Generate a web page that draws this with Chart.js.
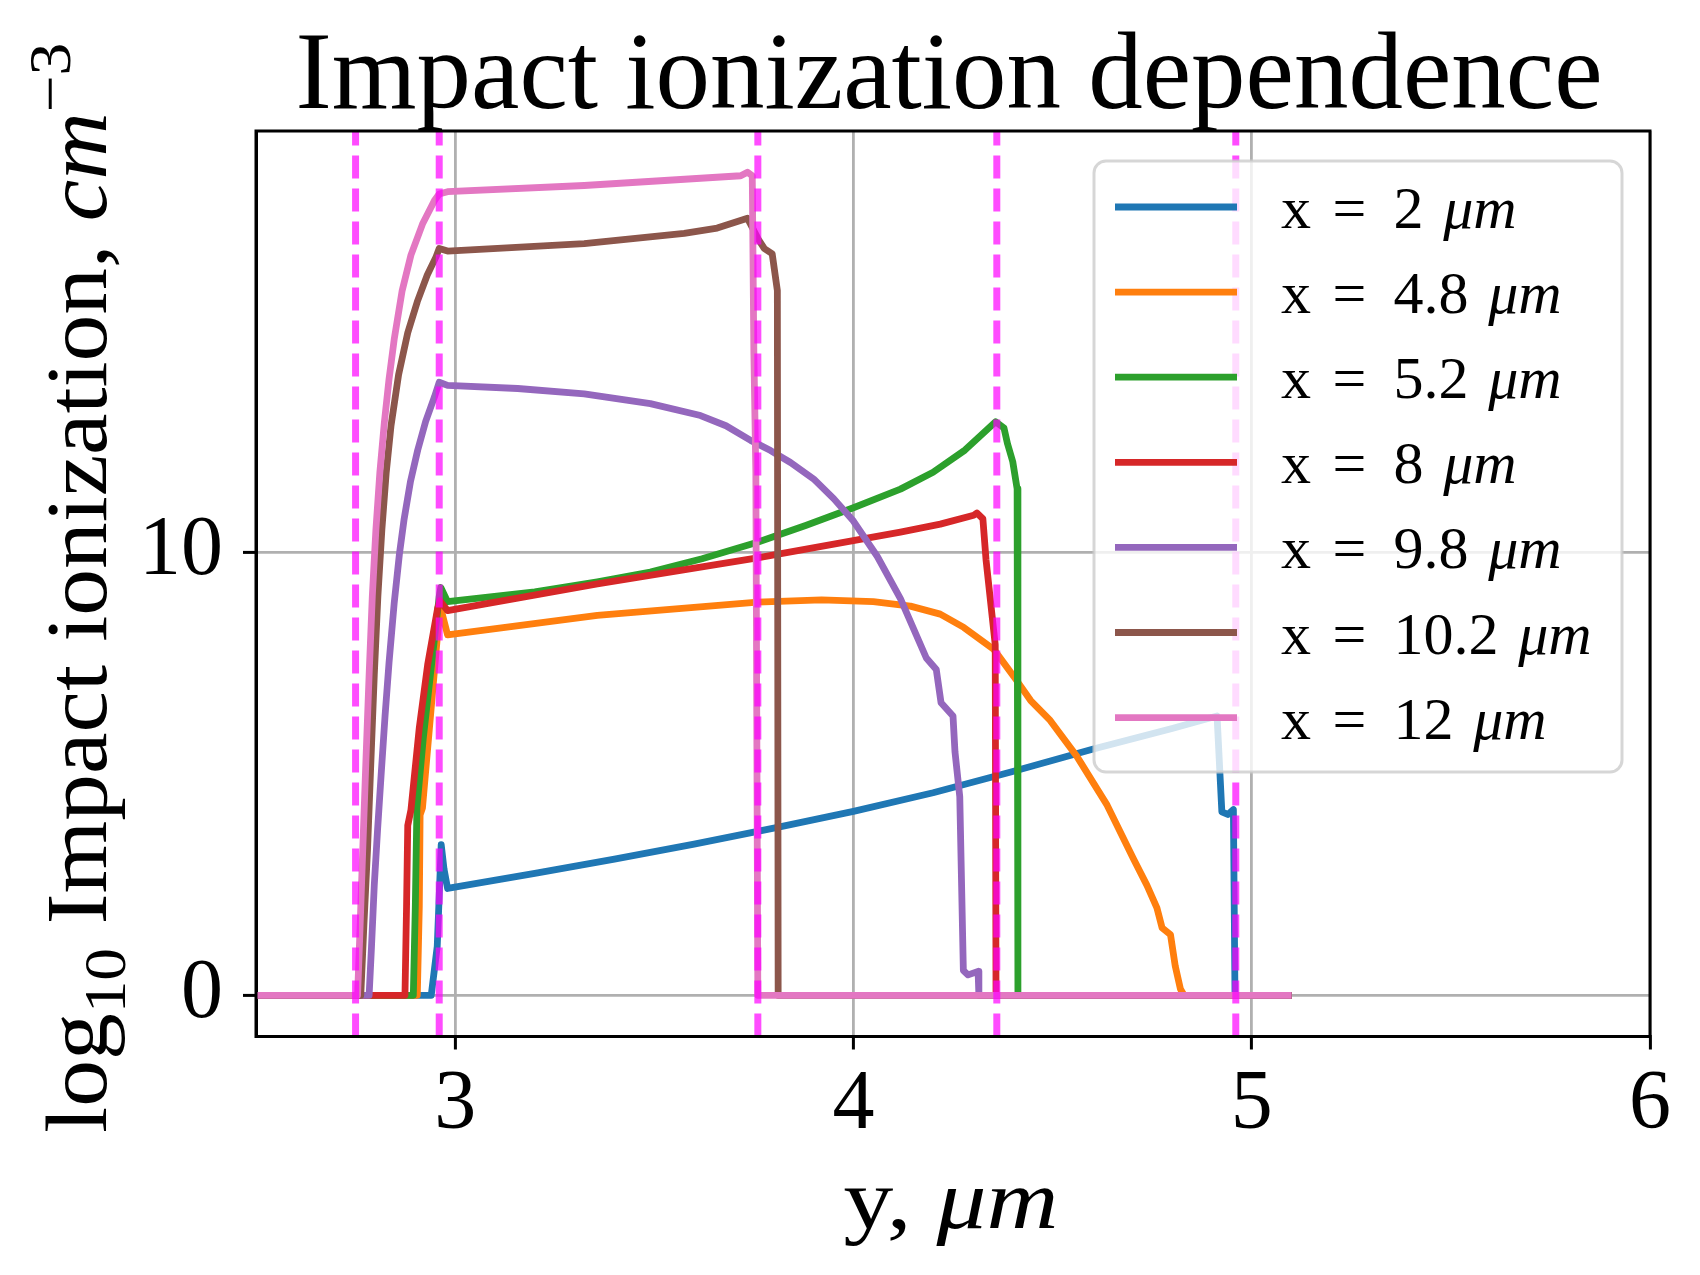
<!DOCTYPE html>
<html>
<head>
<meta charset="utf-8">
<script src="https://cdn.jsdelivr.net/npm/chart.js@4.4.0/dist/chart.umd.min.js"></script>
<style>
  html, body { margin: 0; padding: 0; background: #fff; }
</style>
</head>
<body>
<canvas id="chart" width="1700" height="1275" style="width:1700px;height:1275px"></canvas>
<script>
// lateral position x (um) of each cut, one series per cut
const cutLabels = ['2', '4.8', '5.2', '8', '9.8', '10.2', '12'];
const colors = ['#1f77b4', '#ff7f0e', '#2ca02c', '#d62728', '#9467bd', '#8c564b', '#e377c2'];

// [y (um), log10 impact ionization]
const cutX2 = [[2.5, 0], [2.94, 0], [2.955, 1.1], [2.965, 3.4], [2.972, 2.85], [2.981, 2.41],
  [3.2, 2.75], [3.4, 3.07], [3.6, 3.41], [3.8, 3.77], [4.0, 4.15], [4.2, 4.57], [4.4, 5.05],
  [4.6, 5.55], [4.8, 6.02], [4.913, 6.3], [4.925, 4.14], [4.94, 4.08], [4.954, 4.19],
  [4.958, 0], [5.1, 0]];
const cutX48 = [[2.5, 0], [2.905, 0], [2.91, 2.0], [2.912, 4.07], [2.918, 4.23], [2.94, 6.5],
  [2.96, 8.57], [2.964, 8.73], [2.981, 8.13], [3.357, 8.57], [3.759, 8.87], [3.92, 8.92],
  [4.05, 8.88], [4.143, 8.78], [4.218, 8.6], [4.277, 8.3], [4.352, 7.81], [4.41, 7.1],
  [4.445, 6.65], [4.494, 6.2], [4.561, 5.39], [4.637, 4.29], [4.703, 3.08], [4.737, 2.48],
  [4.762, 1.97], [4.775, 1.52], [4.796, 1.37], [4.808, 0.66], [4.821, 0.14], [4.83, 0], [5.1, 0]];
const cutX52 = [[2.5, 0], [2.895, 0], [2.9, 2.0], [2.904, 4.23], [2.92, 5.8], [2.94, 7.4],
  [2.96, 9.0], [2.964, 9.2], [2.981, 8.88], [3.2, 9.1], [3.357, 9.33], [3.49, 9.55],
  [3.62, 9.85], [3.759, 10.22], [3.88, 10.6], [4.0, 11.0], [4.118, 11.42], [4.2, 11.8],
  [4.28, 12.3], [4.357, 12.94], [4.378, 12.8], [4.387, 12.44], [4.4, 12.04], [4.411, 11.43],
  [4.413, 0], [5.1, 0]];
const cutX8 = [[2.5, 0], [2.874, 0], [2.878, 2.0], [2.881, 3.83], [2.889, 4.18], [2.91, 6.04],
  [2.931, 7.46], [2.956, 8.73], [2.962, 8.9], [2.981, 8.68], [3.357, 9.28], [3.759, 9.87],
  [4.118, 10.45], [4.218, 10.63], [4.302, 10.83], [4.31, 10.88], [4.325, 10.75], [4.333, 9.82],
  [4.339, 9.32], [4.356, 7.91], [4.358, 0], [5.1, 0]];
const cutX98 = [[2.5, 0], [2.784, 0], [2.79, 1.1], [2.797, 2.49], [2.805, 3.7], [2.814, 4.95],
  [2.824, 6.3], [2.834, 7.5], [2.847, 8.85], [2.86, 9.95], [2.872, 10.75], [2.888, 11.6],
  [2.906, 12.3], [2.926, 12.95], [2.948, 13.5], [2.96, 13.83], [2.981, 13.76], [3.157, 13.69],
  [3.324, 13.57], [3.49, 13.35], [3.616, 13.08], [3.68, 12.85], [3.742, 12.52], [3.792, 12.29],
  [3.842, 12.02], [3.9, 11.65], [3.951, 11.2], [4.0, 10.7], [4.06, 9.9], [4.118, 8.95],
  [4.183, 7.61], [4.208, 7.35], [4.22, 6.6], [4.25, 6.3], [4.255, 5.49], [4.267, 4.48],
  [4.276, 0.56], [4.288, 0.46], [4.313, 0.54], [4.315, 0], [5.1, 0]];
const cutX102 = [[2.5, 0], [2.763, 0], [2.771, 1.6], [2.78, 3.28], [2.789, 5.4], [2.797, 7.23],
  [2.806, 9.0], [2.816, 10.5], [2.827, 11.8], [2.839, 12.85], [2.858, 14.0], [2.881, 14.95],
  [2.905, 15.65], [2.93, 16.25], [2.952, 16.66], [2.96, 16.85], [2.981, 16.79], [3.324, 16.96],
  [3.575, 17.19], [3.658, 17.31], [3.734, 17.53], [3.763, 17.03], [3.776, 16.85], [3.796, 16.73],
  [3.809, 15.9], [3.811, 0], [5.1, 0]];
const cutX12 = [[2.5, 0], [2.755, 0], [2.76, 1.2], [2.768, 3.28], [2.776, 5.3], [2.784, 7.23],
  [2.792, 9.0], [2.801, 10.5], [2.811, 11.8], [2.822, 12.9], [2.834, 13.9], [2.847, 14.8],
  [2.867, 15.9], [2.889, 16.7], [2.918, 17.4], [2.948, 17.93], [2.96, 18.08], [2.981, 18.13],
  [3.324, 18.27], [3.717, 18.49], [3.734, 18.57], [3.746, 18.49], [3.75, 14.5], [3.755, 11.8],
  [3.76, 0], [5.1, 0]];

// layer boundaries (dashed verticals)
const boundaries = [2.75, 2.96, 3.76, 4.36, 4.96];

const xTicks = [3, 4, 5, 6];
const yTicks = [0, 10];
const xRange = [2.5, 6];
const yRange = [-0.93, 19.5];

const series = [cutX2, cutX48, cutX52, cutX8, cutX98, cutX102, cutX12];
const serif = '"Liberation Serif", "Times New Roman", serif';
const lineW = 6.8;

const datasets = series.map((pts, i) => ({
  label: cutLabels[i],
  data: pts.map(([x, y]) => ({ x, y })),
  borderColor: colors[i],
  borderWidth: lineW,
  borderJoinStyle: 'round',
  tension: 0,
  pointRadius: 0,
  order: series.length - i,
}));

boundaries.forEach(b => {
  datasets.push({
    label: '',
    data: [{ x: b, y: yRange[0] }, { x: b, y: yRange[1] }],
    borderColor: 'rgba(255,0,255,0.7)',
    borderWidth: 7,
    borderDash: [23, 10],
    pointRadius: 0,
    order: 0,
  });
});

function drawRich(ctx, parts, x, y, size, fitWidth) {
  const fontFor = p => `${p.italic ? 'italic ' : ''}${p.script ? size * 0.7 : size}px ${serif}`;
  let total = 0;
  const widths = parts.map(p => {
    ctx.font = fontFor(p);
    const w = ctx.measureText(p.text).width;
    total += w;
    return w;
  });
  const sx = fitWidth ? fitWidth / total : 1;
  ctx.save();
  ctx.translate(x - total * sx / 2, y);
  ctx.scale(sx, 1);
  ctx.textAlign = 'left';
  ctx.textBaseline = 'alphabetic';
  ctx.fillStyle = '#000';
  let cx = 0;
  parts.forEach((p, i) => {
    ctx.font = fontFor(p);
    const dy = p.script === 'sub' ? size * 0.22 : p.script === 'sup' ? -size * 0.42 : 0;
    ctx.fillText(p.text, cx, dy);
    cx += widths[i];
  });
  ctx.restore();
}

// legend entry "x = v um", math-style spacing around "="
function drawEntry(ctx, value, x, y, size) {
  const pieces = [
    { text: 'x', gap: 0.36 }, { text: '=', gap: 0.45 },
    { text: value, gap: 0.33 }, { text: 'μm', italic: true, gap: 0 },
  ];
  let cx = x;
  pieces.forEach(p => {
    ctx.font = `${p.italic ? 'italic ' : ''}${size}px ${serif}`;
    ctx.fillText(p.text, cx, y);
    cx += ctx.measureText(p.text).width + p.gap * size;
  });
}

const decor = {
  id: 'decor',
  afterDatasetsDraw(chart) {
    const { ctx, chartArea: a } = chart;
    ctx.save();
    ctx.strokeStyle = '#000';
    ctx.lineWidth = 3;
    ctx.strokeRect(a.left, a.top, a.right - a.left, a.bottom - a.top);
    ctx.restore();
  },
  afterDraw(chart) {
    const { ctx, chartArea: a } = chart;
    const cx = (a.left + a.right) / 2;
    const cy = (a.top + a.bottom) / 2;

    drawRich(ctx, [{ text: 'Impact ionization dependence' }], cx - 4, 108, 110, 1307);
    drawRich(ctx, [{ text: 'y, ' }, { text: 'μm', italic: true }], cx - 2, 1228, 84, 215);

    ctx.save();
    ctx.translate(106, cy + 4);
    ctx.rotate(-Math.PI / 2);
    drawRich(ctx, [
      { text: 'log' }, { text: '10', script: 'sub' }, { text: ' Impact ionization, ' },
      { text: 'cm', italic: true }, { text: '−3', script: 'sup' },
    ], 0, 0, 86, 1090);
    ctx.restore();

    // legend box
    const L = { left: 1094, top: 161, right: 1622, bottom: 772 };
    ctx.save();
    ctx.beginPath();
    ctx.roundRect(L.left, L.top, L.right - L.left, L.bottom - L.top, 12);
    ctx.fillStyle = 'rgba(255,255,255,0.8)';
    ctx.fill();
    ctx.strokeStyle = 'rgba(204,204,204,0.8)';
    ctx.lineWidth = 3;
    ctx.stroke();
    cutLabels.forEach((lab, i) => {
      const ry = 207 + i * 85.1;
      ctx.beginPath();
      ctx.moveTo(1115, ry);
      ctx.lineTo(1237, ry);
      ctx.strokeStyle = colors[i];
      ctx.lineWidth = lineW;
      ctx.stroke();
      ctx.fillStyle = '#000';
      ctx.textAlign = 'left';
      ctx.textBaseline = 'alphabetic';
      drawEntry(ctx, lab, 1281, ry + 21, 60);
    });
    ctx.restore();
  },
};

new Chart(document.getElementById('chart'), {
  type: 'line',
  data: { datasets },
  plugins: [decor],
  options: {
    responsive: false,
    devicePixelRatio: 1,
    animation: false,
    layout: { padding: { top: 131, right: 50, left: 0, bottom: 0 } },
    plugins: { legend: { display: false }, tooltip: { enabled: false }, title: { display: false } },
    scales: {
      x: {
        type: 'linear',
        min: xRange[0],
        max: xRange[1],
        afterBuildTicks: s => { s.ticks = xTicks.map(v => ({ value: v })); },
        afterFit: s => { s.height = 238.5; },
        ticks: { font: { family: serif, size: 84 }, color: '#000', padding: 6, maxRotation: 0 },
        grid: { color: '#b0b0b0', lineWidth: 2.8, tickLength: 13, tickColor: '#000', tickWidth: 3 },
        border: { color: '#000', width: 3 },
      },
      y: {
        type: 'linear',
        min: yRange[0],
        max: yRange[1],
        afterBuildTicks: s => { s.ticks = yTicks.map(v => ({ value: v })); },
        afterFit: s => { s.width = 256; },
        ticks: { font: { family: serif, size: 84 }, color: '#000', padding: 20 },
        grid: { color: '#b0b0b0', lineWidth: 2.8, tickLength: 13, tickColor: '#000', tickWidth: 3 },
        border: { color: '#000', width: 3 },
      },
    },
  },
});
</script>
</body>
</html>
